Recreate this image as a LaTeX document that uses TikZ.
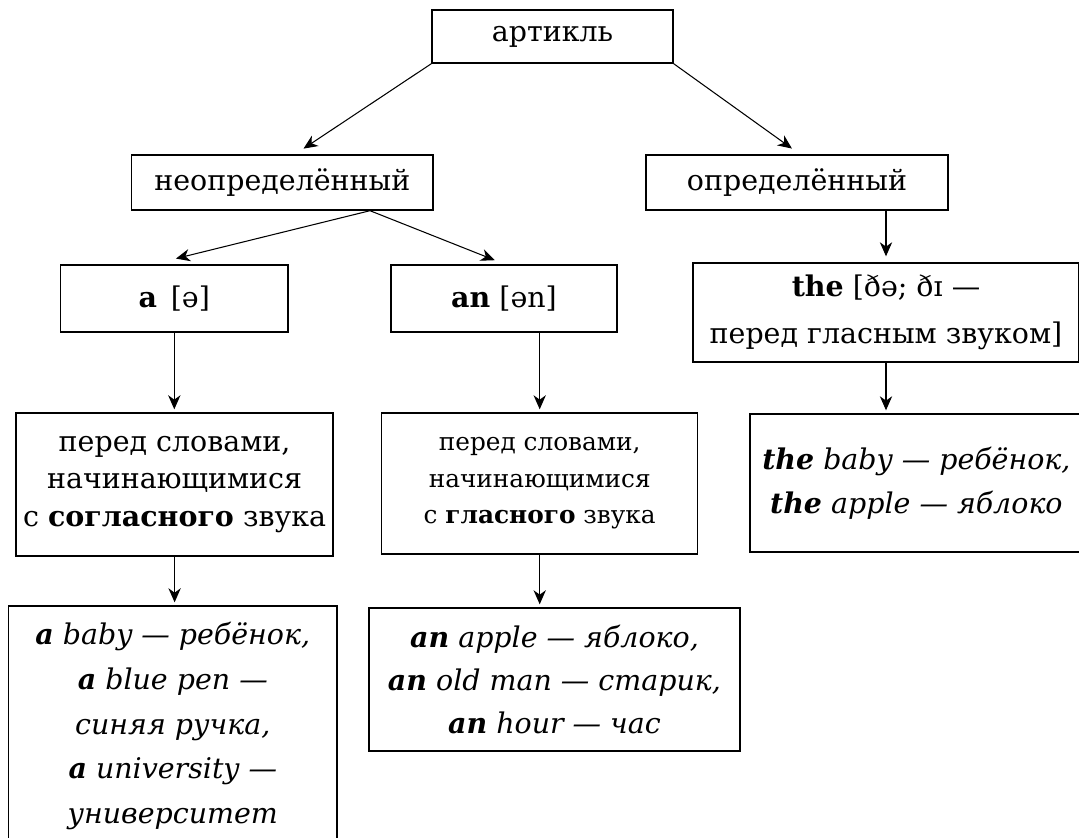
\documentclass[tikz,border=0pt]{standalone}
\usepackage{fontspec}
\setmainfont{DejaVu Serif}
\usetikzlibrary{calc,positioning,arrows.meta}

\begin{document}
\begin{tikzpicture}[x=0.02cm, y=-0.02cm,
  every node/.style={draw, rectangle, line width=0.8pt, inner sep=0pt, align=center,
    font=\fontsize{16.2}{25}\selectfont},
  arr/.style={-{Stealth[length=8pt,width=7pt,inset=2.5pt]}, line width=0.6pt, shorten >=0.06cm}]
  \useasboundingbox (0,0) rectangle (1079,838);
  \node[minimum width=4.82cm, minimum height=1.06cm] (art) at (552.5,36.5) {артикль};
  \node[minimum width=6.03cm, minimum height=1.10cm] (neopr) at (282.3,182.5) {неопределённый};
  \node[minimum width=6.04cm, minimum height=1.10cm] (opr) at (797,182.5) {определённый};
  \node[minimum width=4.55cm, minimum height=1.34cm] (a) at (174.3,298.5) {\textbf{a}\, [ə]};
  \node[minimum width=4.52cm, minimum height=1.34cm] (an) at (504,298.5) {\textbf{an} [ən]};
  \node[minimum width=7.72cm, minimum height=1.98cm, font=\fontsize{16.2}{26.6}\selectfont] (the) at (886,312.5)
    {\textbf{the} [ðə; ðɪ —\\перед гласным звуком]};
  \node[minimum width=6.34cm, minimum height=2.86cm, font=\fontsize{16.2}{21.3}\selectfont] (pa) at (174.6,484.5)
    {перед словами,\\начинающимися\\с \textbf{согласного} звука};
  \node[minimum width=6.32cm, minimum height=2.82cm, font=\fontsize{14.1}{20.7}\selectfont] (pan) at (539.7,483.5)
    {перед словами,\\начинающимися\\с \textbf{гласного} звука};
  \node[minimum width=6.66cm, minimum height=2.76cm, font=\fontsize{16.2}{25}\selectfont\itshape] (tbaby) at (916.4,483)
    {\textbf{the} baby — ребёнок,\\\textbf{the} apple — яблоко};
  \node[minimum width=6.57cm, minimum height=4.80cm, font=\fontsize{16.2}{25.5}\selectfont\itshape] (ababy) at (172.8,726)
    {\textbf{a} baby — ребёнок,\\\textbf{a} blue pen —\\синяя ручка,\\\textbf{a} university —\\университет};
  \node[minimum width=7.42cm, minimum height=2.86cm, font=\fontsize{16.2}{24.7}\selectfont\itshape] (anapple) at (554.5,679.5)
    {\textbf{an} apple — яблоко,\\\textbf{an} old man — старик,\\\textbf{an} hour — час};
  % top level
  \draw[arr] (art.south west) -- ($(neopr.north)+(18.7,-4)$);
  \draw[arr] (art.south east) -- ($(opr.north)+(-2.6,-4)$);
  % indefinite
  \draw[arr] ($(neopr.south)+(87.7,0)$) -- ($(a.north)+(-1.3,-5)$);
  \draw[arr] ($(neopr.south)+(87.7,0)$) -- ($(an.north)+(-6.4,-3)$);
  \draw[arr] (a.south) -- (a.south |- pa.north);
  \draw[arr] (an.south -| pan.north) -- (pan.north);
  \draw[arr] (pa.south) -- (pa.south |- ababy.north);
  \draw[arr] (pan.south) -- (pan.south |- anapple.north);
  % definite
  \draw[arr] (opr.south -| the.north) -- ($(the.north)+(0,-3)$);
  \draw[arr] (the.south) -- (the.south |- tbaby.north);
\end{tikzpicture}
\end{document}
